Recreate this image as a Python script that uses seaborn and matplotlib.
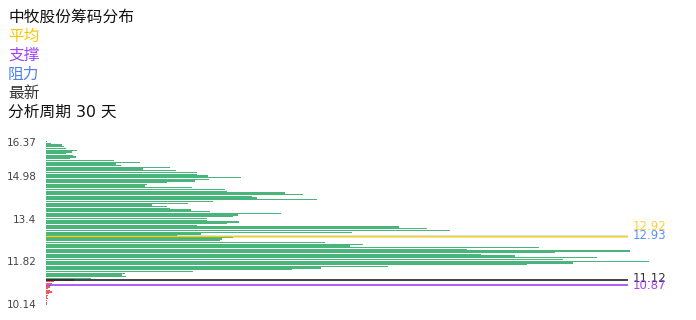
import matplotlib
matplotlib.use("Agg")
import matplotlib.pyplot as plt
import seaborn as sns
import pandas as pd

# ---- data (top price bin -> bottom price bin) ----
title = "中牧股份筹码分布"
green_vol = [0.7, 4.7, 15.7, 18, 19.7, 31, 25.7, 19.7, 26.7, 29.7,
             24, 68, 94, 69.7, 74.7, 124, 96.7, 130, 150.7, 150.7,
             162, 194.7, 163, 149, 120.7, 100.7, 99, 145.7, 179, 180.7,
             239, 257, 206, 210.7, 270.7, 166.7, 142, 105.7, 120.7, 124,
             144.7, 164, 234.7, 192, 187, 161, 160.7, 193, 180.7, 150.7,
             353, 381, 404, 306, 154.5, 130.7, 186.7, 175.7, 174, 279,
             316.7, 304, 493, 421, 584, 509, 435, 469, 550.7, 516.7,
             603.3, 527, 480.7, 341.7, 274.7, 245.7, 147, 79, 75.7, 79.7,
             44.7]
red_vol = [27.7, 8, 5.7, 5.7, 4, 2.3, 4, 5.7, 3.3, 2.3, 1.3, 1.7, 0.7, 0.5, 0.5]
tick_bins = [0, 20, 45, 70, 95]
tick_labels = ["16.37", "14.98", "13.4", "11.82", "10.14"]
# mark lines: (label, bin where the line sits)
avg_line = ("12.92", 55)
res_line = ("12.93", 55)
last_line = ("11.12", 81)
sup_line = ("10.87", 84)
period_days = 30

vols = green_vol + red_vol
df = pd.DataFrame({
    "bin": list(range(len(vols))),
    "vol": vols,
    "side": ["trapped"] * len(green_vol) + ["profit"] * len(red_vol),
})

sns.set_theme(style="white")
plt.rcParams["font.family"] = ["DejaVu Sans", "Noto Sans CJK SC"]

fig = plt.figure(figsize=(6.96, 3.2), dpi=100)
W, H = 696, 320
ax = fig.add_axes([46 / W, (H - 304.8) / H, (628 - 46) / W, (304.8 - 140.85) / H])

sns.barplot(data=df, x="vol", y="bin", hue="side", orient="y", native_scale=True,
            dodge=False, palette={"trapped": "#36ad6c", "profit": "#f04848"},
            width=0.75, saturation=1, errorbar=None, legend=False, ax=ax,
            linewidth=0, alpha=0.9)
for p in ax.patches:
    p.set_clip_on(False)

ax.set_xlim(0, 582)
ax.set_ylim(len(vols) - 0.5, -0.5)
ax.set_xticks([])
ax.set_yticks(tick_bins)
ax.set_yticklabels(tick_labels, fontsize=7.5, color="#444444")
ax.tick_params(axis="y", length=0, pad=7)
ax.set_xlabel("")
ax.set_ylabel("")
for s in ax.spines.values():
    s.set_visible(False)

ytr = ax.get_yaxis_transform()
lines = [
    (res_line, "#5b8ff9", "#5b8ff9", 1.0, 0),
    (avg_line, "#ffcf00", "#ffcf33", 1.0, 6.5),
    (last_line, "#222222", "#333333", 1.2, 1.2),
    (sup_line, "#a044f5", "#a044f5", 1.2, 0),
]
for (lab, b), lc, tc, lw, dy in lines:
    ax.axhline(b, xmin=0, xmax=1, color=lc, lw=lw, zorder=5)
    ax.annotate(lab, xy=(1.0, b), xycoords=ytr, xytext=(3.5, dy),
                textcoords="offset points", va="center", ha="left",
                fontsize=8.5, color=tc, annotation_clip=False)

legend_rows = [
    (title, "#111111"),
    ("平均", "#f7c600"),
    ("支撑", "#a044f5"),
    ("阻力", "#4f80f0"),
    ("最新", "#333333"),
    (f"分析周期 {period_days} 天", "#111111"),
]
for i, (txt, c) in enumerate(legend_rows):
    y_px = 17.5 + i * 19
    fig.text(8 / W, 1 - y_px / H, txt, fontsize=11.3, color=c, va="center", ha="left")

fig.savefig("out.png", dpi=100)
